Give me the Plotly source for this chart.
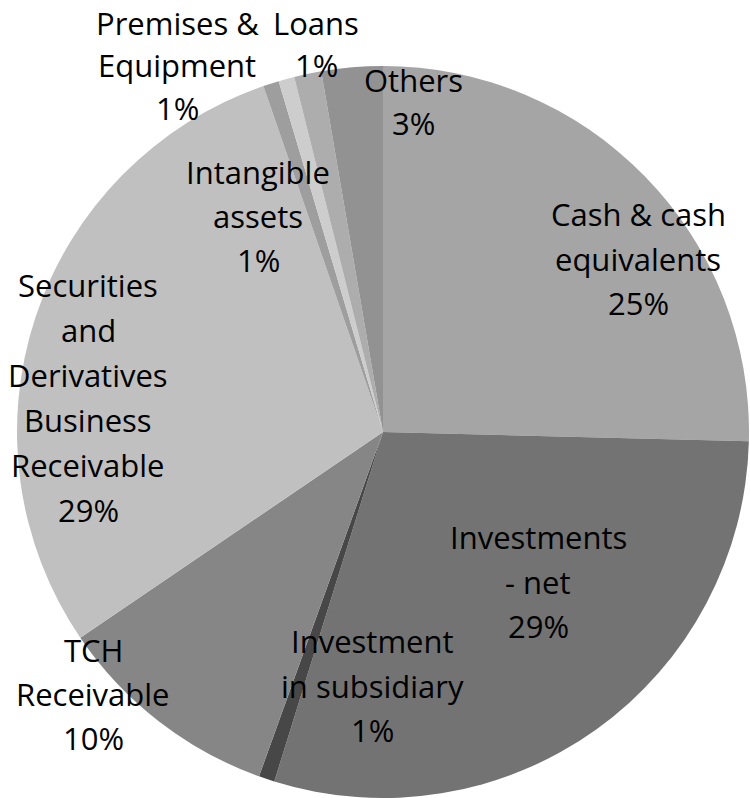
import plotly.graph_objects as go

# ---- data ----
categories = [
    "Cash & cash\nequivalents",
    "Investments\n- net",
    "Investment\nin subsidiary",
    "TCH\nReceivable",
    "Securities\nand\nDerivatives\nBusiness\nReceivable",
    "Intangible\nassets",
    "Premises &\nEquipment",
    "Loans",
    "Others",
]
values = [25.4, 29.4, 0.7, 10.0, 29.2, 0.7, 0.7, 1.2, 2.7]
colors = ["#a5a5a5", "#737373", "#474747", "#868686", "#c0c0c0",
          "#9e9e9e", "#cdcdcd", "#adadad", "#929292"]

# ---- layout / label anchors (pixel centers of first text line) ----
W, H = 750, 798
CX, CY, R = 383, 432, 366
label_pos = [
    (638, 214), (538, 537), (372, 641), (93, 650), (88, 285),
    (258, 172), (177, 23), (316, 23), (413, 80),
]
line_gap = [44.5, 44.5, 44.5, 44, 45, 44, 42.5, 42, 43]
FONT = dict(family="Open Sans", size=31, color="#000000")

fig = go.Figure(go.Pie(
    labels=[c.replace("\n", " ") for c in categories],
    values=values,
    sort=False,
    direction="clockwise",
    rotation=0,
    marker=dict(colors=colors, line=dict(width=0)),
    textinfo="none",
    hoverinfo="label+percent",
    domain=dict(x=[(CX - R) / W, (CX + R) / W],
                y=[max(0, 1 - (CY + R) / H), 1 - (CY - R) / H]),
    showlegend=False,
))

total = sum(values)
annotations = []
for cat, v, (px, py), gap in zip(categories, values, label_pos, line_gap):
    lines = cat.split("\n") + [f"{round(100 * v / total)}%"]
    for i, line in enumerate(lines):
        annotations.append(dict(
            x=px / W, y=1 - (py + i * gap) / H,
            xref="paper", yref="paper",
            text=line, showarrow=False,
            xanchor="center", yanchor="middle",
            borderpad=0,
            font=FONT,
        ))

fig.update_layout(
    width=W, height=H,
    margin=dict(l=0, r=0, t=0, b=0),
    paper_bgcolor="white", plot_bgcolor="white",
    annotations=annotations,
)
fig.write_html(
    "out.html",
    config={"displayModeBar": False},
    post_script="document.body.style.margin='0';document.body.style.padding='0';"
                "document.body.style.overflow='hidden';",
)
